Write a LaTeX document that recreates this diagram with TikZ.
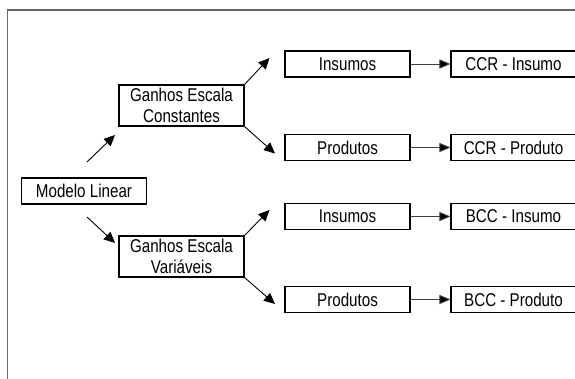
\documentclass[tikz,border=0pt]{standalone}
\usepackage{fontspec}
\setmainfont[FakeStretch=0.82]{Liberation Sans}
\usetikzlibrary{arrows.meta}
\begin{document}
\begin{tikzpicture}[x=1pt,y=-1pt,
  box/.style={draw=black,line width=1.1pt,minimum width=125pt,minimum height=26pt,inner sep=0pt,
    font=\fontsize{18.5}{20.5}\selectfont,align=center},
  tallbox/.style={box,minimum height=41pt},
  arr/.style={line width=0.9pt,-{Triangle[length=11pt,width=10pt]}},
  harr/.style={line width=0.9pt,draw=black!75,-{Triangle[length=11pt,width=9pt,fill=black]}}]
\useasboundingbox (0,0) rectangle (575,378);
\clip (0,0) rectangle (575,378);
\draw[draw=black!60,line width=1.8pt] (7.5,10) rectangle (600,400);
\node[box] (ml) at (84,191) {Modelo Linear};
\node[tallbox] (gec) at (181.5,105.5) {Ganhos Escala\\Constantes};
\node[tallbox] (gev) at (181.5,256.5) {Ganhos Escala\\Variáveis};
\node[box] (i1) at (347.5,64) {Insumos};
\node[box] (p1) at (347.5,147.5) {Produtos};
\node[box] (i2) at (347.5,216.5) {Insumos};
\node[box] (p2) at (347.5,299.5) {Produtos};
\node[box] (ci) at (513.5,64) {CCR - Insumo};
\node[box] (cp) at (513.5,147.5) {CCR - Produto};
\node[box] (bi) at (513.5,216.5) {BCC - Insumo};
\node[box] (bp) at (513.5,299.5) {BCC - Produto};
\coordinate (mlu) at (87,162);
\coordinate (mld) at (87,217);
\coordinate (tgec) at (115,135);
\coordinate (tgev) at (115,243);
\coordinate (ti1) at (269.5,58);
\coordinate (tp1) at (275,153.5);
\coordinate (ti2) at (269.5,210);
\coordinate (tp2) at (275,304);
\draw[arr] (mlu) -- (tgec);
\draw[arr] (mld) -- (tgev);
\draw[arr] (gec.north east) -- (ti1);
\draw[arr] (gec.south east) -- (tp1);
\draw[arr] (gev.north east) -- (ti2);
\draw[arr] (gev.south east) -- (tp2);
\draw[harr] (i1) -- (ci);
\draw[harr] (p1) -- (cp);
\draw[harr] (i2) -- (bi);
\draw[harr] (p2) -- (bp);
\end{tikzpicture}
\end{document}
